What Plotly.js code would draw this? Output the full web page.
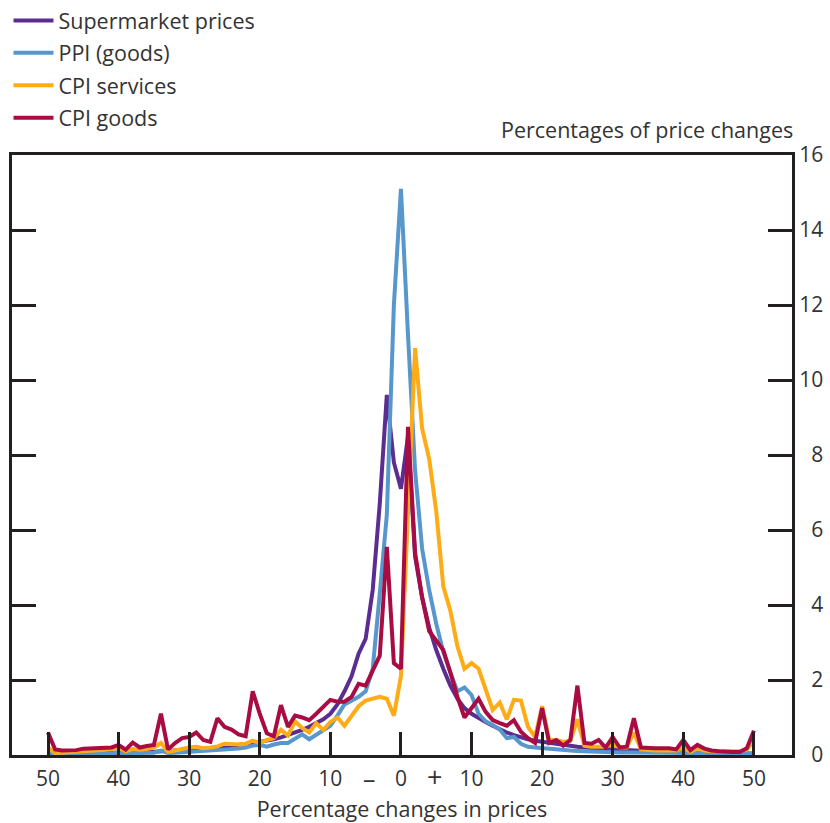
<!DOCTYPE html>
<html>
<head>
<meta charset="utf-8">
<script src="https://cdn.plot.ly/plotly-3.0.1.min.js"></script>
<style>
html,body{margin:0;padding:0;background:#fff;}
#chart{width:830px;height:823px;}
</style>
</head>
<body>
<div id="chart"></div>
<script>
// Percentage change in price (bins), negative = falls, positive = rises
const priceChange = [-50,-49,-48,-47,-46,-45,-44,-43,-42,-41,-40,-39,-38,-37,-36,-35,-34,-33,-32,-31,-30,-29,-28,-27,-26,-25,-24,-23,-22,-21,-20,-19,-18,-17,-16,-15,-14,-13,-12,-11,-10,-9,-8,-7,-6,-5,-4,-3,-2,-1,0,1,2,3,4,5,6,7,8,9,10,11,12,13,14,15,16,17,18,19,20,21,22,23,24,25,26,27,28,29,30,31,32,33,34,35,36,37,38,39,40,41,42,43,44,45,46,47,48,49,50];

const supermarket = [0.03,0.03,0.03,0.04,0.04,0.04,0.05,0.05,0.05,0.06,0.06,0.07,0.07,0.08,0.08,0.09,0.10,0.10,0.11,0.12,0.13,0.14,0.16,0.18,0.20,0.22,0.24,0.26,0.29,0.32,0.35,0.38,0.42,0.47,0.53,0.60,0.67,0.75,0.85,0.95,1.10,1.35,1.70,2.10,2.70,3.10,4.40,6.70,9.60,7.80,7.10,8.50,5.30,4.20,3.40,2.80,2.30,1.85,1.50,1.25,1.10,0.98,0.88,0.78,0.68,0.60,0.53,0.47,0.42,0.38,0.35,0.32,0.29,0.26,0.24,0.22,0.20,0.18,0.17,0.16,0.15,0.14,0.13,0.12,0.11,0.10,0.09,0.09,0.08,0.08,0.07,0.07,0.06,0.06,0.05,0.05,0.05,0.04,0.04,0.04,0.04];

const ppiGoods = [0.05,0.03,0.03,0.03,0.03,0.04,0.04,0.04,0.05,0.05,0.06,0.04,0.05,0.05,0.05,0.06,0.12,0.05,0.06,0.07,0.08,0.09,0.10,0.12,0.14,0.15,0.16,0.17,0.20,0.25,0.27,0.22,0.28,0.32,0.32,0.45,0.55,0.42,0.55,0.65,0.78,1.05,1.35,1.45,1.55,1.70,2.30,4.30,6.40,12.0,15.1,11.2,7.60,5.50,4.40,3.50,2.75,2.20,1.70,1.80,1.60,1.10,0.90,0.80,0.68,0.45,0.48,0.30,0.22,0.20,0.18,0.16,0.15,0.13,0.12,0.11,0.10,0.09,0.08,0.08,0.07,0.07,0.07,0.07,0.06,0.06,0.06,0.06,0.06,0.05,0.05,0.05,0.05,0.05,0.05,0.05,0.04,0.04,0.04,0.04,0.04];

const cpiServices = [0.20,0.05,0.06,0.07,0.08,0.09,0.10,0.11,0.13,0.15,0.20,0.10,0.16,0.14,0.16,0.20,0.32,0.08,0.12,0.17,0.20,0.22,0.18,0.20,0.23,0.30,0.28,0.28,0.30,0.38,0.32,0.40,0.45,0.67,0.52,0.90,0.72,0.60,0.85,0.67,0.88,1.00,0.78,1.05,1.30,1.45,1.50,1.55,1.50,1.05,2.10,6.40,10.85,8.70,7.90,6.50,4.50,3.85,2.90,2.30,2.45,2.30,1.75,1.20,1.40,0.95,1.47,1.45,0.75,0.48,1.30,0.40,0.40,0.35,0.38,0.95,0.25,0.22,0.22,0.22,0.30,0.20,0.20,0.60,0.15,0.13,0.12,0.12,0.12,0.12,0.20,0.08,0.18,0.12,0.10,0.10,0.10,0.10,0.10,0.15,0.38];

const cpiGoods = [0.60,0.15,0.12,0.12,0.13,0.17,0.18,0.18,0.20,0.20,0.27,0.14,0.33,0.20,0.24,0.27,1.10,0.15,0.32,0.45,0.48,0.60,0.40,0.35,0.98,0.75,0.68,0.55,0.50,1.70,1.10,0.58,0.50,1.33,0.75,1.05,1.00,0.93,1.10,1.30,1.47,1.42,1.42,1.55,1.90,1.85,2.25,2.65,5.55,2.45,2.30,8.75,5.40,4.20,3.30,3.05,2.80,2.20,1.55,1.00,1.25,1.50,1.15,0.93,0.85,0.78,0.93,0.62,0.45,0.32,1.25,0.32,0.40,0.25,0.40,1.85,0.32,0.30,0.40,0.20,0.48,0.20,0.22,0.98,0.20,0.18,0.18,0.18,0.18,0.15,0.40,0.13,0.27,0.17,0.12,0.10,0.08,0.08,0.08,0.18,0.65];

const seriesNames = ['Supermarket prices','PPI (goods)','CPI services','CPI goods'];
const seriesColors = ['#5c2d91','#5897cb','#fdab17','#a80c43'];
const seriesValues = [supermarket, ppiGoods, cpiServices, cpiGoods];

const xTickVals = [-50,-40,-30,-20,-10,0,10,20,30,40,50];
const xTickText = ['50','40','30','20','10','0','10','20','30','40','50'];
const yTickVals = [0,2,4,6,8,10,12,14,16];
const yTickText = ['\u20070','\u20072','\u20074','\u20076','\u20078','10','12','14','16'];

const textColor = '#333333';
const frameColor = '#231f20';
const fontFamily = '"Open Sans", "Noto Sans", sans-serif';

const traces = seriesNames.map((name, i) => ({
  type: 'scatter',
  mode: 'lines',
  name: name,
  legendgroup: 'g' + i,
  x: priceChange,
  y: seriesValues[i],
  line: {color: seriesColors[i], width: 4},
  hoverinfo: 'x+y+name'
}));

const layout = {
  width: 830,
  height: 823,
  margin: {l: 12, r: 38, t: 155, b: 68, autoexpand: false},
  paper_bgcolor: '#ffffff',
  plot_bgcolor: '#ffffff',
  font: {family: fontFamily, size: 20, color: textColor},
  showlegend: true,
  legend: {
    x: -0.0045, y: 1.2585, xanchor: 'left', yanchor: 'top',
    bgcolor: 'rgba(0,0,0,0)',
    font: {family: fontFamily, size: 21.5, color: textColor},
    itemwidth: 40,
    tracegroupgap: 1.5,
    traceorder: 'grouped'
  },
  xaxis: {
    range: [-55.1, 55.4],
    tickvals: xTickVals,
    ticktext: xTickText,
    ticks: 'inside',
    ticklen: 23,
    tickwidth: 3,
    tickcolor: frameColor,
    showline: true,
    linecolor: frameColor,
    linewidth: 3,
    mirror: true,
    showgrid: false,
    zeroline: false,
    automargin: false,
    ticklabelstandoff: 3,
    tickfont: {family: fontFamily, size: 21, color: textColor},
    title: {text: 'Percentage changes in prices', font: {family: fontFamily, size: 21.5, color: textColor}, standoff: 13}
  },
  yaxis: {
    range: [0, 16],
    side: 'right',
    tickvals: yTickVals,
    ticktext: yTickText,
    ticks: 'inside',
    ticklen: 24,
    tickwidth: 3,
    tickcolor: frameColor,
    showline: true,
    linecolor: frameColor,
    linewidth: 3,
    mirror: 'ticks',
    showgrid: false,
    zeroline: false,
    automargin: false,
    tickfont: {family: fontFamily, size: 21, color: textColor}
  },
  annotations: [
    {text: 'Percentages of price changes', xref: 'paper', yref: 'paper', x: 1.004, y: 1.042,
     xanchor: 'right', yanchor: 'middle', showarrow: false,
     font: {family: fontFamily, size: 21.5, color: textColor}},
    {text: '\u2013', xref: 'x', yref: 'paper', x: -4.4, y: -0.038,
     xanchor: 'center', yanchor: 'middle', showarrow: false,
     font: {family: fontFamily, size: 25, color: textColor}},
    {text: '+', xref: 'x', yref: 'paper', x: 4.8, y: -0.036,
     xanchor: 'center', yanchor: 'middle', showarrow: false,
     font: {family: fontFamily, size: 27, color: textColor}}
  ]
};

Plotly.newPlot('chart', traces, layout, {displayModeBar: false, staticPlot: true});
</script>
</body>
</html>
